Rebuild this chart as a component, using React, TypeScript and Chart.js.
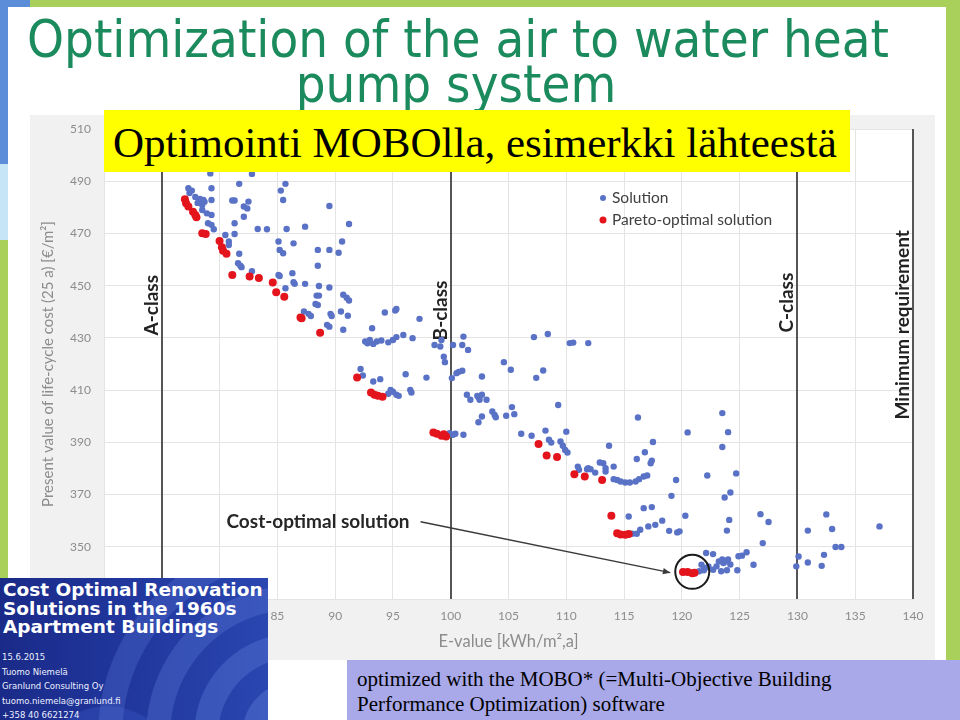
import React, { useEffect, useRef } from "react";
import { Chart, registerables } from "chart.js";

Chart.register(...registerables);

// ---------- data ----------
const solutionX = [
  79.2, 82.8, 77.3, 77.6, 77.4, 79.3, 81.7, 85.7, 85.3, 85.5, 77.9, 78.3, 78.6, 78.1, 78.5, 78.7, 79.3, 81.1, 81.3, 82.5,
  82.1, 82.4, 89.5, 78.5, 78.9, 79.3, 82.1, 79.0, 79.3, 81.3, 91.2, 79.5, 83.3, 84.1, 85.8, 87.4, 80.5, 81.3, 80.8, 80.8,
  85.1, 86.4, 85.2, 85.5, 88.5, 89.5, 90.6, 90.3, 81.7, 81.6, 81.8, 81.9, 88.5, 82.8, 85.1, 85.2, 86.3, 86.4, 86.5, 87.4,
  88.6, 89.5, 85.7, 88.4, 88.6, 88.3, 88.5, 90.7, 91.0, 91.2, 87.3, 87.7, 87.9, 89.6, 89.7, 90.5, 91.1, 94.3, 95.3, 89.3,
  89.5, 90.7, 93.2, 92.6, 93.0, 93.3, 93.6, 94.0, 95.0, 95.3, 95.9, 96.7, 92.8, 94.6, 95.2, 97.3, 98.6, 99.1, 99.2, 100.2,
  99.4, 99.5, 100.1, 100.5, 92.2, 92.4, 93.3, 93.9, 96.1, 97.9, 94.8, 95.0, 95.3, 94.6, 96.5, 96.6, 95.5, 101.1, 101.0, 101.5,
  107.2, 108.4, 110.3, 110.6, 111.9, 100.7, 101.0, 102.7, 104.6, 105.2, 107.4, 108.0, 101.4, 101.7, 102.3, 102.5, 103.1, 102.4, 102.7, 103.6,
  103.8, 103.9, 104.8, 105.5, 102.7, 102.4, 105.3, 109.3, 100.4, 101.1, 99.9, 100.2, 106.1, 107.0, 108.2, 108.5, 108.7, 109.5, 109.7, 109.9,
  110.1, 110.0, 113.7, 111.0, 111.9, 112.9, 113.2, 114.1, 116.2, 117.5, 120.5, 123.5, 124.0, 123.5, 111.1, 111.8, 112.1, 112.5, 113.4, 113.4,
  114.1, 114.4, 114.7, 115.1, 115.5, 116.0, 116.3, 116.7, 117.0, 116.1, 116.8, 117.4, 117.3, 119.5, 122.2, 124.7, 119.1, 123.7, 124.2, 115.4,
  116.7, 117.4, 118.3, 117.7, 117.1, 116.4, 116.1, 115.7, 118.9, 119.6, 119.8, 120.3, 124.1, 123.9, 126.8, 127.5, 127.0, 130.9, 132.5, 133.0,
  133.3, 133.8, 137.1, 122.1, 122.7, 121.7, 122.0, 122.3, 122.7, 123.0, 123.2, 123.5, 123.6, 123.9, 124.0, 124.2, 123.4, 123.9, 124.8, 124.9,
  125.2, 125.6, 126.2, 121.5, 121.9, 130.1, 129.9, 130.9, 132.1, 132.3,
];
const solutionY = [
  493.0, 492.8, 487.3, 486.4, 485.5, 487.3, 489.0, 489.0, 486.4, 482.8, 484.0, 483.2, 482.8, 481.7, 480.9, 482.1, 482.8, 482.6, 482.6, 482.2,
  480.3, 479.6, 480.5, 479.0, 477.7, 477.1, 476.4, 473.9, 473.3, 473.9, 473.6, 471.6, 471.7, 471.6, 471.7, 472.6, 469.4, 469.8, 466.9, 465.6,
  466.9, 466.2, 463.7, 462.4, 463.7, 463.7, 466.9, 462.6, 462.2, 458.6, 457.6, 457.1, 457.6, 455.5, 454.1, 453.7, 454.8, 451.3, 450.7, 450.7,
  449.9, 449.3, 449.0, 446.2, 446.2, 443.0, 442.6, 446.5, 445.4, 444.3, 440.1, 439.2, 438.4, 439.2, 438.4, 440.1, 438.5, 439.7, 441.1, 435.0,
  434.3, 433.1, 433.7, 428.6, 429.2, 427.7, 428.6, 429.0, 429.2, 430.3, 431.1, 429.9, 427.9, 428.3, 440.5, 437.3, 427.3, 426.7, 429.2, 427.3,
  422.8, 420.7, 414.6, 416.5, 418.1, 415.6, 413.3, 414.2, 416.1, 414.8, 410.1, 409.4, 408.2, 408.6, 410.1, 409.1, 407.8, 430.5, 427.3, 425.4,
  430.3, 431.5, 428.0, 428.2, 428.0, 417.0, 417.4, 415.2, 420.7, 417.8, 414.7, 417.5, 408.2, 406.3, 407.8, 406.3, 406.3, 407.3, 408.2, 401.8,
  400.5, 399.6, 400.2, 400.8, 399.9, 397.7, 403.5, 404.3, 393.3, 392.9, 393.5, 392.9, 393.3, 392.5, 394.5, 391.0, 389.9, 390.3, 388.7, 387.1,
  386.1, 394.1, 388.7, 380.7, 380.1, 382.3, 382.0, 380.7, 399.5, 390.1, 393.8, 401.2, 393.9, 388.2, 379.5, 379.7, 379.7, 378.4, 380.1, 378.8,
  375.9, 375.6, 375.0, 374.6, 374.6, 375.0, 375.9, 376.9, 377.3, 383.6, 386.2, 383.0, 382.0, 375.6, 377.3, 378.1, 369.5, 368.9, 370.8, 361.6,
  364.8, 365.2, 360.0, 358.4, 357.8, 356.5, 355.0, 355.0, 356.1, 355.5, 355.9, 361.9, 360.3, 356.2, 362.5, 359.5, 351.4, 356.2, 362.4, 356.8,
  349.9, 349.9, 357.8, 347.6, 347.2, 343.1, 341.8, 342.5, 341.2, 342.5, 344.4, 345.1, 343.8, 344.4, 345.1, 343.2, 340.6, 341.0, 341.0, 346.4,
  346.6, 347.9, 343.1, 340.6, 341.0, 346.3, 342.5, 344.0, 342.7, 346.9,
];
const paretoX = [
  77.0, 77.1, 77.3, 77.7, 77.9, 78.0, 78.5, 78.8, 80.0, 80.2, 80.3, 80.6, 81.1, 82.6, 83.4, 84.6, 84.9, 85.6, 87.0, 87.1,
  88.7, 91.9, 93.1, 93.4, 93.7, 94.1, 98.5, 98.8, 99.2, 99.6, 99.4, 107.6, 108.3, 109.2, 110.7, 111.6, 113.1, 113.9, 114.4, 114.7,
  115.1, 115.4, 120.1, 120.5, 120.9, 121.1,
];
const paretoY = [
  483.1, 481.6, 480.3, 478.3, 477.1, 476.2, 470.1, 469.8, 467.1, 464.7, 463.4, 462.2, 454.1, 453.5, 452.9, 451.2, 447.5, 445.8, 437.8, 437.5,
  432.0, 414.8, 409.1, 408.2, 407.8, 407.5, 393.8, 393.3, 392.5, 392.2, 393.1, 389.4, 385.0, 384.4, 377.8, 376.9, 375.6, 361.9, 355.2, 354.7,
  354.6, 354.9, 340.3, 340.3, 339.9, 340.1,
];

const xMin = 70;
const xMax = 140;
const xStep = 5;
const yMin = 330;
const yMax = 510;
const yStep = 20;

const seriesNames = ["Solution", "Pareto-optimal solution"];
const seriesColors = ["#5a72c6", "#e3141c"];

const refLineX = [75, 100, 130, 140];
const refLineLabels = ["A-class", "B-class", "C-class", "Minimum requirement"];
const refLabelY = [442.5, 440.5, 443.5, 435];

const xTitle = "E-value [kWh/m\u00b2,a]";
const yTitle = "Present value of life-cycle cost (25 a) [\u20ac/m\u00b2]";

const annotationText = "Cost-optimal solution";
const annotationAt = [80.6, 359.6];
const annotationTarget = [119.0, 340.1];
const circleAt = [120.9, 340.4];

// ---------- chart ----------
const decorPlugin = {
  id: "decor",
  beforeDraw(chart: any) {
    const { ctx, chartArea: a, width, height } = chart;
    ctx.save();
    ctx.fillStyle = "#f1f1f1";
    ctx.fillRect(0, 0, width, height);
    ctx.fillStyle = "#ffffff";
    ctx.fillRect(a.left, a.top, a.right - a.left, a.bottom - a.top);
    ctx.restore();
  },
  beforeDatasetsDraw(chart: any) {
    const { ctx, chartArea: a, scales } = chart;
    const x = scales.x;
    const y = scales.y;
    ctx.save();
    refLineX.forEach((v, i) => {
      const px = Math.round(x.getPixelForValue(v));
      ctx.strokeStyle = "#555555";
      ctx.lineWidth = 2;
      ctx.beginPath();
      ctx.moveTo(px, a.top);
      ctx.lineTo(px, a.bottom);
      ctx.stroke();
      ctx.save();
      ctx.translate(px - 4, y.getPixelForValue(refLabelY[i]));
      ctx.rotate(-Math.PI / 2);
      ctx.font = "bold 19px Lato";
      ctx.fillStyle = "#222222";
      ctx.textAlign = "center";
      ctx.textBaseline = "alphabetic";
      ctx.fillText(refLineLabels[i], 0, 0);
      ctx.restore();
    });
    ctx.restore();
  },
  afterDatasetsDraw(chart: any) {
    const { ctx, chartArea: a, scales } = chart;
    const x = scales.x;
    const y = scales.y;
    ctx.save();
    // legend
    ctx.font = "15.5px Lato";
    ctx.textBaseline = "middle";
    ctx.textAlign = "left";
    seriesNames.forEach((name, i) => {
      const ly = a.top + 69 + i * 22;
      const lx = a.left + 499;
      ctx.fillStyle = seriesColors[i];
      ctx.beginPath();
      ctx.arc(lx, ly, i === 0 ? 3 : 3.5, 0, Math.PI * 2);
      ctx.fill();
      ctx.fillStyle = "#404040";
      ctx.fillText(name, lx + 9, ly);
    });
    // annotation
    const tx = x.getPixelForValue(annotationAt[0]);
    const ty = y.getPixelForValue(annotationAt[1]);
    ctx.font = "bold 19px Lato";
    ctx.fillStyle = "#262626";
    ctx.fillText(annotationText, tx, ty);
    const tw = ctx.measureText(annotationText).width;
    const sx = tx + tw + 11;
    const sy = ty;
    const ex = x.getPixelForValue(annotationTarget[0]);
    const ey = y.getPixelForValue(annotationTarget[1]);
    ctx.strokeStyle = "#3a3a3a";
    ctx.lineWidth = 1.5;
    ctx.beginPath();
    ctx.moveTo(sx, sy);
    ctx.lineTo(ex, ey);
    ctx.stroke();
    const ang = Math.atan2(ey - sy, ex - sx);
    ctx.fillStyle = "#3a3a3a";
    ctx.beginPath();
    ctx.moveTo(ex, ey);
    ctx.lineTo(ex - 8 * Math.cos(ang - 0.4), ey - 8 * Math.sin(ang - 0.4));
    ctx.lineTo(ex - 8 * Math.cos(ang + 0.4), ey - 8 * Math.sin(ang + 0.4));
    ctx.closePath();
    ctx.fill();
    ctx.strokeStyle = "#1a1a1a";
    ctx.lineWidth = 2;
    ctx.beginPath();
    ctx.arc(x.getPixelForValue(circleAt[0]), y.getPixelForValue(circleAt[1]), 17, 0, Math.PI * 2);
    ctx.stroke();
    ctx.restore();
  },
};

function toPoints(xs: number[], ys: number[]) {
  return xs.map((v, i) => ({ x: v, y: ys[i] }));
}

function ScatterChart() {
  const ref = useRef<HTMLCanvasElement | null>(null);
  useEffect(() => {
    if (!ref.current) return;
    const chart = new Chart(ref.current, {
      type: "scatter",
      data: {
        datasets: [
          {
            label: seriesNames[0],
            data: toPoints(solutionX, solutionY),
            backgroundColor: seriesColors[0],
            borderWidth: 0,
            pointRadius: 3.2,
            order: 2,
          },
          {
            label: seriesNames[1],
            data: toPoints(paretoX, paretoY),
            backgroundColor: seriesColors[1],
            borderWidth: 0,
            pointRadius: 4,
            order: 1,
          },
        ],
      },
      options: {
        responsive: false,
        animation: false,
        events: [],
        layout: { padding: { top: 14, right: 22, left: 0, bottom: 0 } },
        plugins: { legend: { display: false }, tooltip: { enabled: false } },
        scales: {
          x: {
            type: "linear",
            min: xMin,
            max: xMax,
            afterFit: (s: any) => {
              s.height = 61;
              s.paddingLeft = 0;
              s.paddingRight = 0;
            },
            ticks: {
              stepSize: xStep,
              padding: 10,
              color: "#8c8c8c",
              font: { family: "Lato", size: 12 },
            },
            grid: { color: "#e4e4e4", drawTicks: false },
            border: { display: false },
            title: {
              display: true,
              text: xTitle,
              color: "#8c8c8c",
              font: { family: "Lato", size: 16.5 },
              padding: { top: 0, bottom: 8 },
            },
          },
          y: {
            type: "linear",
            min: yMin,
            max: yMax,
            afterFit: (s: any) => {
              s.width = 74;
              s.paddingTop = 0;
              s.paddingBottom = 0;
            },
            ticks: {
              stepSize: yStep,
              padding: 13,
              color: "#8c8c8c",
              font: { family: "Lato", size: 12 },
            },
            grid: { color: "#e4e4e4", drawTicks: false },
            border: { display: false },
            title: {
              display: true,
              text: yTitle,
              color: "#8c8c8c",
              font: { family: "Lato", size: 15 },
              padding: { top: 9, bottom: 0 },
            },
          },
        },
      },
      plugins: [decorPlugin],
    } as any);
    return () => chart.destroy();
  }, []);
  return (
    <canvas
      ref={ref}
      width={905}
      height={545}
      style={{ position: "absolute", left: 30, top: 115, width: 905, height: 545 }}
    />
  );
}

const titleStyle: any = {
  position: "absolute",
  left: -200,
  width: 1316,
  textAlign: "center",
  fontFamily: "'DejaVu Sans', sans-serif",
  fontSize: 52,
  lineHeight: "52px",
  color: "#1b8a5c",
  whiteSpace: "nowrap",
  transform: "scaleX(0.905)",
  transformOrigin: "center top",
};

export default function App() {
  return (
    <div
      style={{
        position: "fixed",
        left: 0,
        top: 0,
        width: 960,
        height: 720,
        background: "#ffffff",
        overflow: "hidden",
      }}
    >
      {/* frame bars */}
      <div style={{ position: "absolute", left: 0, top: 0, width: 960, height: 7, background: "#a8d05a" }} />
      <div style={{ position: "absolute", left: 0, top: 0, width: 30, height: 7, background: "#5b8dd9" }} />
      <div style={{ position: "absolute", left: 946, top: 0, width: 14, height: 720, background: "#a8d05a" }} />
      <div style={{ position: "absolute", left: 0, top: 0, width: 8, height: 164, background: "#5b8dd9" }} />
      <div style={{ position: "absolute", left: 0, top: 164, width: 8, height: 76, background: "#c6e6f8" }} />
      <div style={{ position: "absolute", left: 0, top: 240, width: 8, height: 340, background: "#a8d05a" }} />

      {/* title */}
      <div style={{ ...titleStyle, top: 13 }}>Optimization of the air to water heat</div>
      <div style={{ ...titleStyle, top: 58, left: -202 }}>pump system</div>

      <ScatterChart />

      {/* yellow label */}
      <div
        style={{
          position: "absolute",
          left: 104,
          top: 110,
          width: 746,
          height: 62,
          background: "#ffff00",
          fontFamily: "'Liberation Serif', serif",
          fontSize: 43,
          lineHeight: "62px",
          paddingLeft: 9,
          boxSizing: "border-box",
          color: "#000",
          whiteSpace: "nowrap",
        }}
      >
        <span style={{ position: "relative", top: 2 }}>Optimointi MOBOlla, esimerkki lähteestä</span>
      </div>

      {/* bottom-left reference box */}
      <div
        style={{
          position: "absolute",
          left: 0,
          top: 578,
          width: 268,
          height: 142,
          background:
            "radial-gradient(circle at 110% 110%, transparent 0 28px, rgba(90,120,215,0.45) 29px 52px, transparent 53px 76px, rgba(90,120,215,0.4) 77px 100px, transparent 101px 124px, rgba(90,120,215,0.35) 125px 148px, transparent 149px 172px, rgba(90,120,215,0.3) 173px 196px, transparent 197px), radial-gradient(circle at 40% 140%, transparent 0 40px, rgba(60,90,200,0.35) 41px 70px, transparent 71px), linear-gradient(90deg, #1a2a88 0%, #20369c 45%, #2a46b0 100%)",
          overflow: "hidden",
        }}
      >
        <div
          style={{
            position: "absolute",
            left: 3,
            top: 3,
            fontFamily: "'DejaVu Sans', sans-serif",
            fontWeight: "bold",
            fontSize: 18.5,
            lineHeight: "18.5px",
            color: "#ffffff",
            whiteSpace: "nowrap",
          }}
        >
          Cost Optimal Renovation
          <br />
          Solutions in the 1960s
          <br />
          Apartment Buildings
        </div>
        <div
          style={{
            position: "absolute",
            left: 2,
            top: 72,
            fontFamily: "'DejaVu Sans', sans-serif",
            fontSize: 8.5,
            lineHeight: "14.5px",
            color: "#eef1ff",
            whiteSpace: "nowrap",
          }}
        >
          15.6.2015
          <br />
          Tuomo Niemelä
          <br />
          Granlund Consulting Oy
          <br />
          tuomo.niemela@granlund.fi
          <br />
          +358 40 6621274
        </div>
      </div>

      {/* bottom-right note */}
      <div
        style={{
          position: "absolute",
          left: 347,
          top: 660,
          width: 613,
          height: 60,
          background: "#a9a9ea",
          fontFamily: "'Liberation Serif', serif",
          fontSize: 21,
          lineHeight: "25px",
          paddingLeft: 10,
          paddingTop: 7,
          boxSizing: "border-box",
          color: "#000",
          whiteSpace: "nowrap",
        }}
      >
        optimized with the MOBO* (=Multi-Objective Building
        <br />
        Performance Optimization) software
      </div>
    </div>
  );
}
